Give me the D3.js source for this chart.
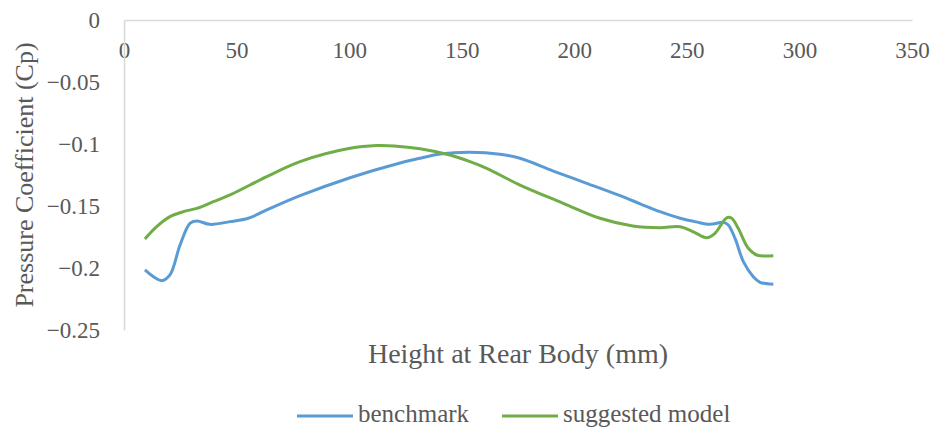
<!DOCTYPE html>
<html>
<head>
<meta charset="utf-8">
<script src="https://cdn.jsdelivr.net/npm/d3@7"></script>
<style>
  body { margin: 0; background: #fff; }
  text { font-family: "Liberation Serif", "Times New Roman", serif; fill: #595959; }
</style>
</head>
<body>
<div id="chart"></div>
<script>
// Benchmark series (height in mm, pressure coefficient)
var benchmarkHeight = [9.3, 16.7, 20.4, 24.9, 29.3, 32.3, 38.2, 47.1, 55.2, 63.4, 78.2, 100.4, 122.6, 131.5, 140.4, 153.7, 167, 175.9, 190.7, 205.5, 220.3, 229, 238.1, 247, 254, 260.3, 266.2, 268.4, 271.4, 275.1, 279.5, 282.5, 288.4];
var benchmarkCp = [-0.2016, -0.2102, -0.2056, -0.1815, -0.1640, -0.1621, -0.1648, -0.1626, -0.1599, -0.1532, -0.1417, -0.1272, -0.1153, -0.1115, -0.1081, -0.1067, -0.1083, -0.1115, -0.1218, -0.1317, -0.1417, -0.1480, -0.1546, -0.1599, -0.1628, -0.1648, -0.1632, -0.1653, -0.1761, -0.1949, -0.2070, -0.2115, -0.2131];

// Suggested model series
var suggestedHeight = [9.3, 14.5, 20.4, 26.3, 32.3, 39.7, 47.1, 63.4, 78.2, 100.4, 112.2, 120, 131.5, 144.8, 153.7, 161.1, 175.9, 195.1, 211.4, 226, 238.1, 247, 252.9, 258.8, 262.5, 267.7, 269.9, 272.8, 277.3, 281, 288.4];
var suggestedCp = [-0.1766, -0.1667, -0.1586, -0.1546, -0.1519, -0.1465, -0.1411, -0.1263, -0.1142, -0.1035, -0.1013, -0.1016, -0.1038, -0.1089, -0.1142, -0.1196, -0.1331, -0.1478, -0.1599, -0.1661, -0.1675, -0.1667, -0.1708, -0.1756, -0.1720, -0.1595, -0.1599, -0.1680, -0.1841, -0.1895, -0.1901];

var xTicks = [0, 50, 100, 150, 200, 250, 300, 350];
var yTicks = [0, -0.05, -0.1, -0.15, -0.2, -0.25];
var seriesNames = ["benchmark", "suggested model"];
var seriesColors = ["#5B9BD5", "#70AD47"];

function drawChart() {
    d3.select("#chart").select("svg").remove();

    var margin = { top: 20, right: 22, bottom: 99, left: 124 },
        width = 934 - margin.left - margin.right,
        height = 429 - margin.top - margin.bottom;

    var root = d3.select("#chart").append("svg")
        .attr("width", 934)
        .attr("height", 429);

    var svg = root.append("g")
        .attr("transform", `translate(${margin.left},${margin.top})`);

    var x = d3.scaleLinear().domain([0, 350]).range([0, width]);
    var y = d3.scaleLinear().domain([-0.25, 0]).range([height, 0]);

    // X axis sits at Cp = 0 (top)
    var xAxis = svg.append("g")
        .call(d3.axisBottom(x).tickValues(xTicks).tickSize(0).tickPadding(22)
            .tickFormat(d3.format("d")));
    xAxis.selectAll("text").style("font-size", "23px");

    // Y axis on the left
    var yAxis = svg.append("g")
        .call(d3.axisLeft(y).tickValues(yTicks).tickSize(0).tickPadding(24)
            .tickFormat(d3.format("")));
    yAxis.selectAll("text").style("font-size", "23px");

    svg.selectAll(".domain").attr("stroke", "#d9d9d9").attr("stroke-width", 1.6);

    var line = d3.line()
        .x(d => x(d.h))
        .y(d => y(d.cp))
        .curve(d3.curveCatmullRom.alpha(0.5));

    var series = [
        benchmarkHeight.map((h, i) => ({ h: h, cp: benchmarkCp[i] })),
        suggestedHeight.map((h, i) => ({ h: h, cp: suggestedCp[i] }))
    ];

    series.forEach(function (data, i) {
        svg.append("path")
            .datum(data)
            .attr("fill", "none")
            .attr("stroke", seriesColors[i])
            .attr("stroke-width", 3)
            .attr("stroke-linejoin", "round")
            .attr("d", line);
    });

    // Axis titles
    root.append("text")
        .attr("x", 518)
        .attr("y", 363)
        .attr("text-anchor", "middle")
        .style("font-size", "28px")
        .text("Height at Rear Body (mm)");

    root.append("text")
        .attr("transform", "translate(33,175) rotate(-90)")
        .attr("text-anchor", "middle")
        .style("font-size", "26px")
        .text("Pressure Coefficient (Cp)");

    // Legend
    var legendX = [297, 502];
    seriesNames.forEach(function (name, i) {
        var g = root.append("g").attr("transform", `translate(${legendX[i]},416)`);
        g.append("line")
            .attr("x1", 0).attr("x2", 56)
            .attr("stroke", seriesColors[i])
            .attr("stroke-width", 3);
        g.append("text")
            .attr("x", 61)
            .attr("y", 6)
            .style("font-size", "25px")
            .text(name);
    });
}

document.addEventListener('DOMContentLoaded', drawChart);
</script>
</body>
</html>
